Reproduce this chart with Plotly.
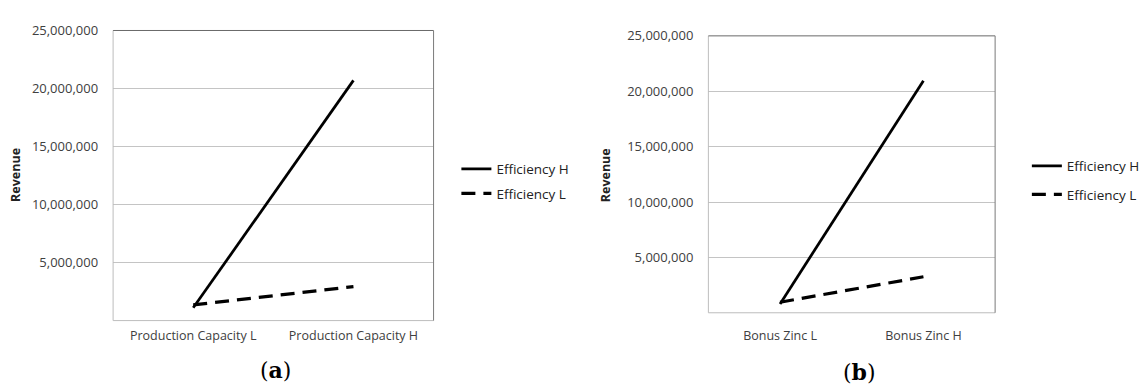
import plotly.graph_objects as go

# Panel (a): revenue by production capacity level
cats_a = ["Production Capacity L", "Production Capacity H"]
eff_h_a = [1_100_000, 20_700_000]
eff_l_a = [1_350_000, 2_930_000]

# Panel (b): revenue by zinc bonus level
cats_b = ["Bonus Zinc L", "Bonus Zinc H"]
eff_h_b = [800_000, 20_950_000]
eff_l_b = [950_000, 3_250_000]

series_names = ["Efficiency H", "Efficiency L"]
y_ticks = [5_000_000, 10_000_000, 15_000_000, 20_000_000, 25_000_000]
y_ticktext = ["5,000,000", "10,000,000", "15,000,000", "20,000,000", "25,000,000"]
panel_labels = ["(<b>a</b>)", "(<b>b</b>)"]

W, H = 1145, 387
FONT = "Open Sans"
TICK_COLOR = "#404040"

solid = dict(color="black", width=2.75)
dashed = dict(color="black", width=3.2, dash="14px,8px")

fig = go.Figure()
fig.add_trace(go.Scatter(x=cats_a, y=eff_h_a, mode="lines", name=series_names[0],
                         line=solid, xaxis="x", yaxis="y", legend="legend",
                         legendgroup="a_h"))
fig.add_trace(go.Scatter(x=cats_a, y=eff_l_a, mode="lines", name=series_names[1],
                         line=dashed, xaxis="x", yaxis="y", legend="legend",
                         legendgroup="a_l"))
fig.add_trace(go.Scatter(x=cats_b, y=eff_h_b, mode="lines", name=series_names[0],
                         line=solid, xaxis="x2", yaxis="y2", legend="legend2",
                         legendgroup="b_h"))
fig.add_trace(go.Scatter(x=cats_b, y=eff_l_b, mode="lines", name=series_names[1],
                         line=dashed, xaxis="x2", yaxis="y2", legend="legend2",
                         legendgroup="b_l"))

def px_x(p):
    return p / W

def px_y(p):
    return 1 - p / H

# plot-area boxes in pixels: (left, top, right, bottom)
box_a = (114, 22, 437, 319)
box_b = (714, 27.5, 1003, 311)

def xaxis_cfg(box):
    return dict(domain=[px_x(box[0]), px_x(box[2])], range=[-0.5, 1.5],
                showgrid=False, zeroline=False, showline=False, ticks="",
                tickfont=dict(family=FONT, size=12.5, color=TICK_COLOR),
                ticklabelstandoff=6, fixedrange=True)

def yaxis_cfg(box, anchor):
    return dict(domain=[px_y(box[3]), px_y(box[1])], range=[0, 25_000_000],
                anchor=anchor, tickvals=y_ticks, ticktext=y_ticktext,
                showgrid=True, gridcolor="#c4c4c4", gridwidth=1,
                zeroline=False, showline=False, ticks="",
                tickfont=dict(family=FONT, size=13, color=TICK_COLOR),
                ticklabelstandoff=14, fixedrange=True)

shapes = []
for box in (box_a, box_b):
    l, t, r, b = box
    # light left/bottom edges, darker top/right edges of the plot frame
    shapes.append(dict(type="line", xref="paper", yref="paper", x0=px_x(l), x1=px_x(l),
                       y0=px_y(b), y1=px_y(t), line=dict(color="#bdbdbd", width=1)))
    shapes.append(dict(type="line", xref="paper", yref="paper", x0=px_x(l), x1=px_x(r),
                       y0=px_y(b), y1=px_y(b), line=dict(color="#bdbdbd", width=1)))
    shapes.append(dict(type="line", xref="paper", yref="paper", x0=px_x(l), x1=px_x(r),
                       y0=px_y(t), y1=px_y(t), line=dict(color="#6a6a6a", width=1)))
    shapes.append(dict(type="line", xref="paper", yref="paper", x0=px_x(r), x1=px_x(r),
                       y0=px_y(b), y1=px_y(t), line=dict(color="#7a7a7a", width=1)))

annotations = [
    dict(text="Revenue", textangle=-90, x=px_x(15), y=px_y(170), xref="paper", yref="paper",
         xanchor="center", yanchor="middle", showarrow=False,
         font=dict(family=FONT, size=12.5, color="#222222", weight="bold")),
    dict(text="Revenue", textangle=-90, x=px_x(610), y=px_y(170), xref="paper", yref="paper",
         xanchor="center", yanchor="middle", showarrow=False,
         font=dict(family=FONT, size=12.5, color="#222222", weight="bold")),
    dict(text=panel_labels[0], x=px_x(278), y=px_y(370), xref="paper", yref="paper",
         xanchor="center", yanchor="middle", showarrow=False,
         font=dict(family="DejaVu Serif", size=22, color="black")),
    dict(text=panel_labels[1], x=px_x(866), y=px_y(372), xref="paper", yref="paper",
         xanchor="center", yanchor="middle", showarrow=False,
         font=dict(family="DejaVu Serif", size=22, color="black")),
]

legend_common = dict(xanchor="left", yanchor="top", bgcolor="rgba(0,0,0,0)",
                     font=dict(family=FONT, size=13.5, color="#222222"),
                     itemwidth=30, borderwidth=0, traceorder="grouped")

fig.update_layout(
    width=W, height=H,
    margin=dict(l=0, r=0, t=0, b=0),
    paper_bgcolor="white", plot_bgcolor="white",
    xaxis=xaxis_cfg(box_a), yaxis=yaxis_cfg(box_a, "x"),
    xaxis2=xaxis_cfg(box_b), yaxis2=yaxis_cfg(box_b, "x2"),
    legend=dict(x=px_x(460), y=px_y(148), tracegroupgap=4, **legend_common),
    legend2=dict(x=px_x(1035), y=px_y(145), tracegroupgap=8, **legend_common),
    shapes=shapes, annotations=annotations,
    showlegend=True,
)

fig.write_html("out.html")
